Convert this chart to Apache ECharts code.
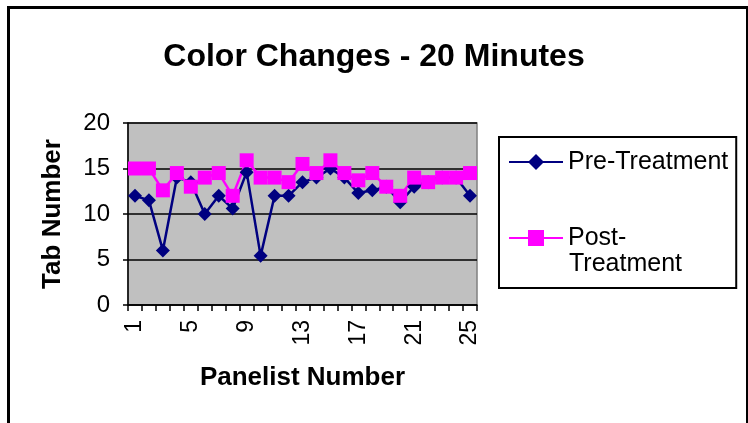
<!DOCTYPE html>
<html>
<head>
<meta charset="utf-8">
<script src="https://cdn.jsdelivr.net/npm/echarts@6/dist/echarts.min.js"></script>
<style>
html,body{margin:0;padding:0;background:#fff;}
#c{width:748px;height:423px;}
</style>
</head>
<body>
<div id="c"></div>
<script>
var categories = ['1','2','3','4','5','6','7','8','9','10','11','12','13','14','15','16','17','18','19','20','21','22','23','24','25'];
var preTreatment = [12, 11.5, 6, 14, 13.5, 10, 12, 10.6, 14.6, 5.4, 12, 12, 13.5, 14, 15, 14, 12.3, 12.6, 13, 11.3, 13, 13.5, 14, 14, 12];
var postTreatment = [15, 15, 12.6, 14.5, 13, 14, 14.5, 12, 15.9, 14, 14, 13.5, 15.5, 14.5, 15.9, 14.5, 13.7, 14.5, 13, 12, 14, 13.5, 14, 14, 14.5];
var yTicks = {min: 0, max: 20, interval: 5};

var FONT = '"Liberation Sans", Arial, sans-serif';
var chart = echarts.init(document.getElementById('c'), null, {renderer: 'canvas'});
chart.setOption({
  animation: false,
  backgroundColor: '#fff',
  title: {
    text: 'Color Changes - 20 Minutes',
    left: 'center',
    top: 36,
    textStyle: {fontFamily: FONT, fontSize: 32, fontWeight: 'bold', color: '#000'}
  },
  legend: {
    orient: 'vertical',
    left: 499,
    top: 137,
    padding: [11, 8, 36, 9],
    itemGap: 48,
    itemWidth: 54,
    itemHeight: 20,
    borderColor: '#000',
    borderWidth: 2,
    backgroundColor: '#fff',
    textStyle: {fontFamily: FONT, fontSize: 25, color: '#000', lineHeight: 28},
    formatter: function (n) { return n === 'Post-Treatment' ? 'Post-' : n; },
    data: ['Pre-Treatment', 'Post-Treatment']
  },
  graphic: [
    {type: 'rect', shape: {x: 8.5, y: 7.5, width: 739, height: 440}, style: {fill: 'none', stroke: '#000', lineWidth: 3}, silent: true},
    {type: 'text', left: 569, top: 252, style: {text: 'Treatment', font: '25px ' + FONT, fill: '#000'}, z: 100}
  ],
  grid: {
    left: 128, right: 271, top: 123, bottom: 118,
    show: true, backgroundColor: '#C0C0C0', borderColor: '#808080', borderWidth: 1.5
  },
  xAxis: {
    type: 'category',
    data: categories,
    boundaryGap: true,
    name: 'Panelist Number',
    nameLocation: 'middle',
    nameGap: 60,
    nameTextStyle: {fontFamily: FONT, fontSize: 26, fontWeight: 'bold', color: '#000'},
    axisLine: {lineStyle: {color: '#000', width: 1.5}},
    axisTick: {show: true, interval: 0, length: 6, lineStyle: {color: '#000', width: 1.5}},
    axisLabel: {interval: 3, rotate: 90, margin: 15, fontFamily: FONT, fontSize: 23, color: '#000'},
    splitLine: {show: false}
  },
  yAxis: {
    type: 'value',
    min: yTicks.min, max: yTicks.max, interval: yTicks.interval,
    name: 'Tab Number',
    nameLocation: 'middle',
    nameGap: 62,
    nameTextStyle: {fontFamily: FONT, fontSize: 26, fontWeight: 'bold', color: '#000'},
    axisLine: {show: true, lineStyle: {color: '#000', width: 1.5}},
    axisTick: {show: true, length: 5, lineStyle: {color: '#000', width: 1.5}},
    axisLabel: {margin: 18, fontFamily: FONT, fontSize: 24, color: '#000'},
    splitLine: {show: true, lineStyle: {color: '#000', width: 1.5}}
  },
  series: [
    {
      name: 'Pre-Treatment', type: 'line', data: preTreatment,
      symbol: 'diamond', symbolSize: 14, showAllSymbol: true,
      lineStyle: {color: '#000080', width: 2.5},
      itemStyle: {color: '#000080'}
    },
    {
      name: 'Post-Treatment', type: 'line', data: postTreatment,
      symbol: 'rect', symbolSize: 14, showAllSymbol: true,
      lineStyle: {color: '#FF00FF', width: 2.5},
      itemStyle: {color: '#FF00FF'}
    }
  ]
});
</script>
</body>
</html>
